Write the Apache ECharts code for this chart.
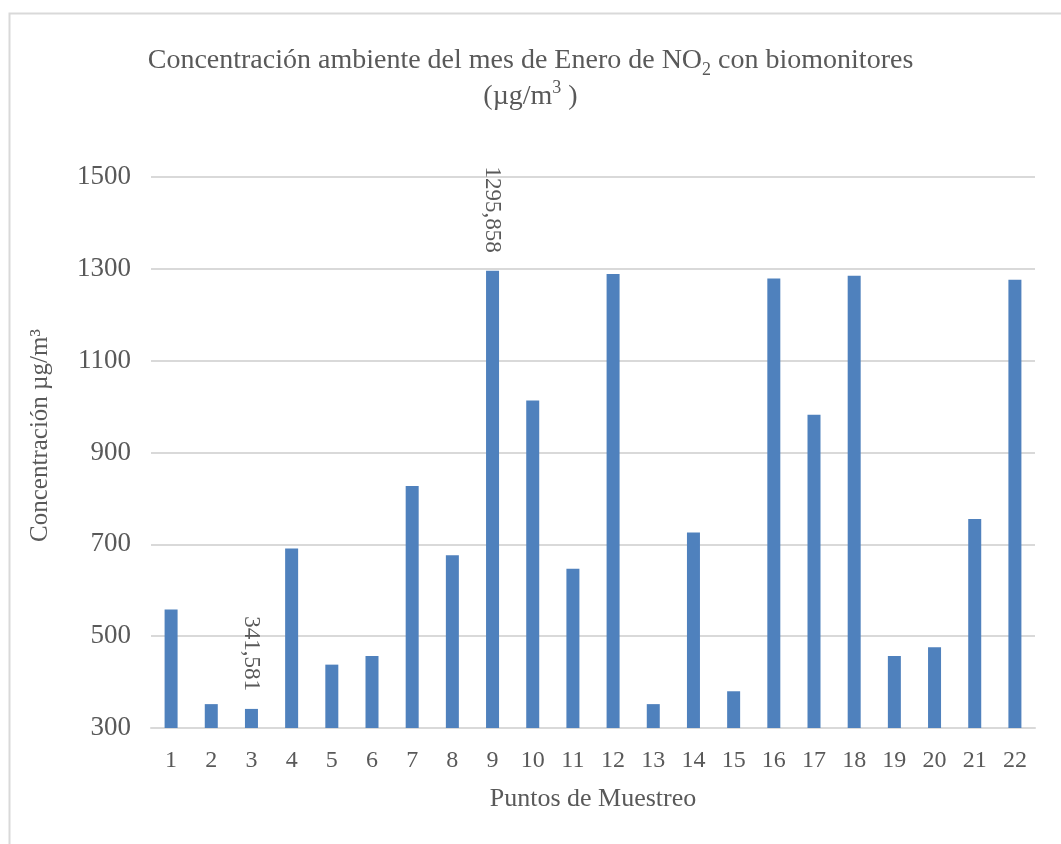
<!DOCTYPE html>
<html>
<head>
<meta charset="utf-8">
<script src="https://cdn.jsdelivr.net/npm/echarts@6/dist/echarts.min.js"></script>
<style>
  html, body { margin: 0; padding: 0; background: #fff; }
  #chart { width: 1061px; height: 844px; }
</style>
</head>
<body>
<div id="chart"></div>
<script>
  // puntos de muestreo
  var puntos = ['1','2','3','4','5','6','7','8','9','10','11','12','13','14','15','16','17','18','19','20','21','22'];
  // concentracion NO2 enero (ug/m3)
  var concentracion = [558, 352, 341.581, 691, 438, 457, 827, 676, 1295.858, 1013, 647,
                       1289, 352, 726, 380, 1279, 982, 1285, 457, 476, 755, 1276];
  // solo estos puntos llevan etiqueta
  var etiquetados = [2, 8];
  var yTicks = { min: 300, max: 1500, interval: 200 };

  var serif = "'Liberation Serif', 'Times New Roman', serif";
  var gris = '#595959';

  var chart = echarts.init(document.getElementById('chart'));
  var option = {
    backgroundColor: '#fff',
    animation: false,
    graphic: [{
      type: 'rect',
      left: 7, top: 11,
      shape: { width: 1100, height: 900 },
      style: { fill: 'none', stroke: '#d9d9d9', lineWidth: 2 }
    }],
    title: {
      left: 'center',
      top: 38,
      text: '{a|Concentración ambiente del mes de Enero de NO}{s|2}{a| con biomonitores}\n{a|(µg/m}{p|3}{a| )}',
      textStyle: {
        fontWeight: 'normal',
        rich: {
          a: { fontFamily: serif, fontSize: 28, color: gris, lineHeight: 36 },
          s: { fontFamily: serif, fontSize: 18, color: gris, verticalAlign: 'bottom', lineHeight: 28 },
          p: { fontFamily: serif, fontSize: 18, color: gris, verticalAlign: 'top', lineHeight: 36 }
        }
      }
    },
    grid: { left: 151, right: 26, top: 177, bottom: 116 },
    xAxis: {
      type: 'category',
      data: puntos,
      name: 'Puntos de Muestreo',
      nameLocation: 'middle',
      nameGap: 58,
      nameTextStyle: { fontFamily: serif, fontSize: 26, color: gris },
      axisLine: { lineStyle: { color: '#d9d9d9', width: 2 } },
      axisTick: { show: false },
      axisLabel: { fontFamily: serif, fontSize: 24, color: gris, margin: 21, interval: 0 }
    },
    yAxis: {
      type: 'value',
      min: yTicks.min,
      max: yTicks.max,
      interval: yTicks.interval,
      name: 'Concentración µg/m³',
      nameLocation: 'middle',
      nameGap: 98,
      nameTextStyle: { fontFamily: serif, fontSize: 25, color: gris, padding: [0, 0, 0, 34] },
      axisLine: { show: false },
      axisTick: { show: false },
      axisLabel: {
        fontFamily: serif, fontSize: 27, color: gris, margin: 20,
        formatter: function (v) { return String(v); }
      },
      splitLine: { lineStyle: { color: '#d9d9d9', width: 2 } }
    },
    series: [{
      type: 'bar',
      data: concentracion.map(function (v, i) {
        var item = { value: v };
        if (etiquetados.indexOf(i) >= 0) {
          item.label = {
            show: true,
            position: 'top',
            rotate: -90,
            distance: 18,
            align: 'right',
            verticalAlign: 'middle',
            fontFamily: serif,
            fontSize: 23,
            color: gris,
            formatter: function (p) { return String(p.value).replace('.', ','); }
          };
        }
        return item;
      }),
      barWidth: 13,
      itemStyle: { color: '#4f81bd' }
    }]
  };
  chart.setOption(option);
</script>
</body>
</html>
